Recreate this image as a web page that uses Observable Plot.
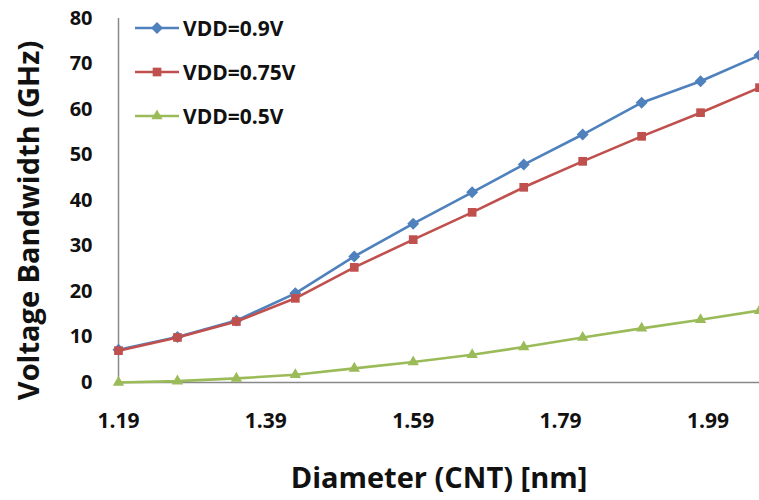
<!DOCTYPE html>
<html>
<head>
<meta charset="utf-8">
<script src="https://cdn.jsdelivr.net/npm/d3@7"></script>
<script src="https://cdn.jsdelivr.net/npm/@observablehq/plot@0.6"></script>
<style>
  html, body { margin: 0; padding: 0; background: #fff; }
  #wrap { position: relative; width: 759px; height: 500px; font-family: "Open Sans", Lato, sans-serif; }
  #legend { position: absolute; left: 135px; top: 6px; }
  .row { display: flex; align-items: center; height: 44px; font-weight: bold; font-size: 21px; color: #111; }
  .row svg { margin-right: 4px; }
</style>
</head>
<body>
<div id="wrap"></div>
<script>
const diameters = [1.19, 1.27, 1.35, 1.43, 1.51, 1.59, 1.67, 1.74, 1.82, 1.90, 1.98, 2.06];
const vdd09  = [7.2, 10.0, 13.6, 19.6, 27.7, 34.9, 41.8, 47.9, 54.5, 61.5, 66.2, 71.9];
const vdd075 = [7.0, 9.9, 13.4, 18.5, 25.3, 31.4, 37.4, 42.9, 48.6, 54.1, 59.3, 64.8];
const vdd05  = [0.0, 0.3, 0.9, 1.7, 3.1, 4.5, 6.1, 7.8, 9.9, 11.9, 13.8, 15.8];
const seriesNames = ["VDD=0.9V", "VDD=0.75V", "VDD=0.5V"];
const seriesColors = ["#4F81BD", "#C0504D", "#9BBB59"];
const seriesSymbols = ["diamond2", "square", "triangle"];
const xTicks = [1.19, 1.39, 1.59, 1.79, 1.99];
const yTicks = [0, 10, 20, 30, 40, 50, 60, 70, 80];
const xTitle = "Diameter (CNT) [nm]";
const yTitle = "Voltage Bandwidth (GHz)";

const allValues = [vdd09, vdd075, vdd05];
const data = seriesNames.flatMap((s, i) => diameters.map((d, j) => ({series: s, d, v: allValues[i][j]})));
const symbolR = [5.4, 4.9, 4.2];

const marks = [
  Plot.ruleY([0], {stroke: "#898989", strokeWidth: 1.5}),
  Plot.ruleX([diameters[0]], {stroke: "#898989", strokeWidth: 1.5}),
  Plot.axisY({ticks: yTicks, tickSize: 0, tickPadding: 26, fontSize: 20, label: null}),
  Plot.axisX({ticks: xTicks, tickSize: 0, tickPadding: 31, fontSize: 21, tickFormat: d => d.toFixed(2), label: null}),
];
seriesNames.forEach((s, i) => {
  const rows = data.filter(r => r.series === s);
  marks.push(Plot.line(rows, {x: "d", y: "v", stroke: seriesColors[i], strokeWidth: 2.6}));
  marks.push(Plot.dot(rows, {x: "d", y: "v", fill: seriesColors[i], symbol: seriesSymbols[i], r: symbolR[i], stroke: "none"}));
});
marks.push(Plot.text([xTitle], {frameAnchor: "bottom", textAnchor: "middle", lineAnchor: "middle", dy: 96, fontSize: 29, fontWeight: "bold"}));
marks.push(Plot.text([yTitle], {frameAnchor: "left", textAnchor: "middle", lineAnchor: "middle", rotate: -90, dx: -89, dy: 20, fontSize: 29, fontWeight: "bold"}));

const chart = Plot.plot({
  width: 759,
  height: 500,
  marginLeft: 118,
  marginRight: 0,
  marginTop: 18,
  marginBottom: 118,
  x: {domain: [1.19, 2.06]},
  y: {domain: [0, 80]},
  style: {fontFamily: "'Open Sans', Lato, sans-serif", fontWeight: "bold", color: "#111", background: "#fff", overflow: "hidden"},
  marks
});
const wrap = document.getElementById("wrap");
wrap.appendChild(chart);

const legend = document.createElement("div");
legend.id = "legend";
seriesNames.forEach((s, i) => {
  const row = document.createElement("div");
  row.className = "row";
  const sym = d3.symbol(d3["symbol" + (i === 0 ? "Diamond2" : i === 1 ? "Square" : "Triangle")], Math.PI * symbolR[i] * symbolR[i])();
  row.innerHTML = `<svg width="44" height="14" viewBox="-22 -7 44 14"><line x1="-22" x2="22" y1="0" y2="0" stroke="${seriesColors[i]}" stroke-width="2.6"/><path d="${sym}" fill="${seriesColors[i]}"/></svg><span>${s}</span>`;
  legend.appendChild(row);
});
wrap.appendChild(legend);
</script>
</body>
</html>
